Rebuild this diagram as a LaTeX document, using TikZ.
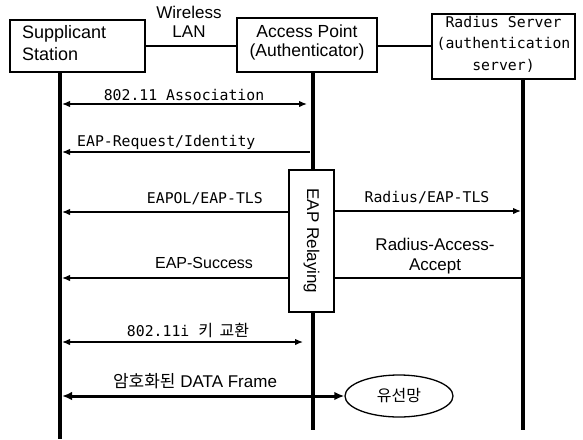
\documentclass[tikz,border=0pt]{standalone}
\usepackage{fontspec}
\usepackage{graphicx}
\setmainfont{Liberation Sans}
\newfontfamily\monofont{DejaVu Sans Mono}
\newfontfamily\krfont{Noto Sans CJK KR}
\usetikzlibrary{arrows.meta,shapes.geometric}
% invisible rule that adds depth below the last line of a box label
\newcommand\lowerby[1]{\rule[-#1]{0pt}{#1}}

\begin{document}
\begin{tikzpicture}[x=1pt,y=-1pt,
  box/.style={draw, line width=1.3pt, inner sep=0pt},
  lifeline/.style={line width=3.4pt},
  msg/.style={line width=1.35pt},
  tipstart/.style={msg, {Latex[length=8pt,width=6.5pt]}-},
  tipend/.style={msg, -{Latex[length=8pt,width=6.5pt]}},
  tipboth/.style={msg, {Latex[length=8pt,width=6.5pt]}-{Latex[length=8pt,width=6.5pt]}},
  datalink/.style={line width=3pt, {Latex[length=10pt,width=8.5pt]}-{Latex[length=10pt,width=8.5pt]}},
  mono/.style={font=\monofont\fontsize{14.8}{18}\selectfont, inner sep=0pt, anchor=base},
  sans/.style={font=\fontsize{17}{19}\selectfont, inner sep=0pt, anchor=base},
]
\useasboundingbox (0,0) rectangle (583,439);

% entities
\node[box, minimum width=135pt, minimum height=52pt, text width=111pt, align=left,
      font=\fontsize{18}{22}\selectfont] (sup) at (77.5,46) {Supplicant\\Station\lowerby{7pt}};
\node[box, minimum width=140pt, minimum height=54pt, align=center,
      font=\fontsize{17.5}{19}\selectfont] (ap) at (307,45) {Access Point\\(Authenticator)\lowerby{9pt}};
\node[box, minimum width=143pt, minimum height=65pt, align=center,
      font=\monofont\fontsize{14.8}{21.5}\selectfont] (rad) at (503.5,46.5) {Radius Server\\(authentication\\server)\lowerby{7pt}};

% physical links between entities
\draw[msg] (sup.east) -- (sup.east -| ap.west);
\draw[msg] (ap.east |- sup.east) -- (ap.east |- sup.east -| rad.west);
\node[font=\fontsize{17}{19}\selectfont, align=center, inner sep=0pt] (wlan) at (189,22) {Wireless\\LAN};

% lifelines
\coordinate (supEnd) at (60,439);
\coordinate (apEnd) at (313,430);
\coordinate (radEnd) at (523,430);
\draw[lifeline] (sup.south -| supEnd) -- (supEnd);
\draw[lifeline] (ap.south -| apEnd) -- (apEnd);
\draw[lifeline] (rad.south -| radEnd) -- (radEnd);

% relaying block on the access point lifeline
\node[box, fill=white, minimum width=45pt, minimum height=142pt,
      font=\fontsize{17}{19}\selectfont] (relay) at (311.5,241) {\rotatebox{-90}{EAP Relaying}};

% message end points
\coordinate (m1a) at (62,104);  \coordinate (m1b) at (307,104);
\coordinate (m2a) at (62,152);  \coordinate (m2b) at (310,152);
\coordinate (m3a) at (62,212);
\coordinate (m4b) at (521,211);
\coordinate (m5a) at (62,278);
\coordinate (m6b) at (523,278);
\coordinate (m7a) at (62,342);  \coordinate (m7b) at (303,342);
\coordinate (m8a) at (62,396);

% wired network
\node[draw, ellipse, line width=1.3pt, minimum width=108pt, minimum height=42pt, inner sep=0pt,
      font=\krfont\fontsize{16}{18}\selectfont] (wired) at (399,396) {유선망};

% messages
\draw[tipboth] (m1a) -- (m1b);
\draw[tipstart] (m2a) -- (m2b);
\draw[tipstart] (m3a) -- (m3a -| relay.west);
\draw[tipend] (m4b -| relay.east) -- (m4b);
\draw[tipstart] (m5a) -- (m5a -| relay.west);
\draw[msg] (m6b -| relay.east) -- (m6b);
\draw[tipboth] (m7a) -- (m7b);
\draw[datalink] (m8a) -- (m8a -| wired.west);

% message labels
\node[mono] (l1) at (184,100) {802.11 Association};
\node[mono, anchor=base west] (l2) at (77,146) {EAP-Request/Identity};
\node[mono, anchor=base east] (l3) at (263,203) {EAPOL/EAP-TLS};
\node[mono] (l4) at (427,202) {Radius/EAP-TLS};
\node[sans, font=\fontsize{16}{19}\selectfont] (l5) at (204,268) {EAP-Success};
\node[font=\fontsize{17}{20}\selectfont, align=center, inner sep=0pt] (l6) at (435,256) {Radius-Access-\\Accept};
\node[mono] (l7) at (188,336) {802.11i {\krfont\fontsize{16}{18}\selectfont 키\hspace{3pt} 교환}};
\node[sans] (l8) at (195,387) {{\krfont 암호화된} DATA Frame};
\end{tikzpicture}
\end{document}
